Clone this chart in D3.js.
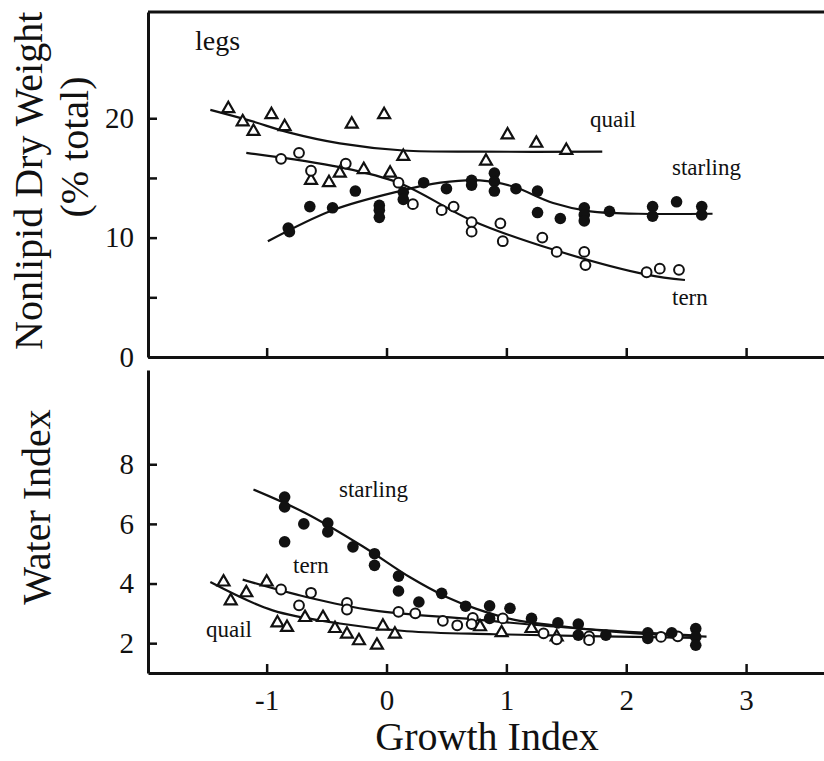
<!DOCTYPE html>
<html>
<head>
<meta charset="utf-8">
<script src="https://cdn.jsdelivr.net/npm/d3@7"></script>
<style>
  body { margin: 0; background: #fff; }
  svg { display: block; }
  text { font-family: "Liberation Serif", "DejaVu Serif", serif; fill: #111; }
</style>
</head>
<body>
<svg id="chart" width="824" height="761"></svg>
<script>
// ---- data (growth index, value) ----
// top panel: nonlipid dry weight of legs (% total)
var quailLegs = [[-1.32,20.8],[-1.2,19.7],[-1.11,18.9],[-0.96,20.3],[-0.85,19.3],[-0.29,19.5],
  [-0.02,20.3],[0.14,16.8],[-0.63,14.8],[-0.48,14.6],[-0.39,15.4],[-0.19,15.7],[0.03,15.4],
  [0.83,16.4],[1.01,18.6],[1.25,17.9],[1.5,17.3]];
var ternLegs = [[-0.88,16.6],[-0.73,17.1],[-0.63,15.6],[-0.34,16.2],[0.1,14.6],[0.22,12.8],
  [0.46,12.3],[0.56,12.6],[0.71,11.3],[0.71,10.5],[0.95,11.2],[0.97,9.7],[1.3,10.0],
  [1.42,8.8],[1.65,8.8],[1.66,7.7],[2.17,7.1],[2.28,7.4],[2.44,7.3]];
var starlingLegs = [[-0.82,10.8],[-0.81,10.5],[-0.64,12.6],[-0.45,12.5],[-0.26,13.9],[-0.06,12.7],
  [-0.06,12.3],[-0.06,11.7],[0.14,13.8],[0.14,13.2],[0.31,14.6],[0.5,14.1],[0.71,14.8],
  [0.71,14.4],[0.9,15.4],[0.9,14.7],[0.9,13.9],[1.08,14.1],[1.26,13.9],[1.26,12.1],
  [1.45,11.6],[1.65,12.5],[1.65,11.9],[1.65,11.4],[1.86,12.2],[2.22,12.6],[2.22,11.8],
  [2.42,13.0],[2.63,12.6],[2.63,11.9]];
var quailLegsFit = [[-1.47,20.7],[-1.14,19.8],[-0.81,18.8],[-0.39,17.9],[0.14,17.3],[0.78,17.2],[1.8,17.2]];
var ternLegsFit = [[-1.17,17.1],[-0.39,15.9],[0.1,14.6],[0.72,11.4],[1.39,9.0],[2.17,6.9],[2.49,6.45]];
var starlingLegsFit = [[-0.99,9.7],[-0.45,12.3],[0.11,13.9],[0.45,14.6],[0.78,14.8],[1.05,14.3],
  [1.39,12.9],[1.7,12.2],[2.1,12.0],[2.72,12.0]];

// bottom panel: water index
var starlingWater = [[-0.85,6.9],[-0.85,6.57],[-0.85,5.4],[-0.69,6.0],[-0.49,6.03],[-0.49,5.73],
  [-0.28,5.23],[-0.1,5.0],[-0.1,4.61],[0.1,4.25],[0.1,3.75],[0.27,3.38],[0.46,3.67],[0.66,3.24],
  [0.86,3.25],[0.86,2.83],[1.03,3.17],[1.21,2.83],[1.43,2.68],[1.6,2.64],[1.6,2.27],[1.83,2.27],
  [2.18,2.35],[2.18,2.16],[2.38,2.35],[2.58,2.49],[2.58,2.21],[2.58,1.93]];
var ternWater = [[-0.88,3.8],[-0.63,3.69],[-0.73,3.27],[-0.33,3.35],[-0.33,3.13],[0.1,3.05],
  [0.24,3.0],[0.47,2.75],[0.59,2.6],[0.72,2.85],[0.71,2.64],[0.97,2.83],[1.31,2.33],[1.42,2.13],
  [1.69,2.23],[1.69,2.1],[2.29,2.21],[2.43,2.23]];
var quailWater = [[-1.36,4.05],[-1.3,3.42],[-1.17,3.69],[-1.0,4.05],[-0.91,2.68],[-0.83,2.53],
  [-0.68,2.86],[-0.53,2.86],[-0.43,2.49],[-0.33,2.3],[-0.23,2.08],[-0.08,1.93],[-0.03,2.57],
  [0.07,2.3],[0.78,2.55],[0.96,2.35],[1.21,2.49],[1.42,2.21]];
var starlingWaterFit = [[-1.11,7.15],[-0.67,6.35],[-0.2,5.25],[0.2,4.2],[0.5,3.55],[0.75,3.15],
  [1.05,2.8],[1.5,2.55],[2.0,2.35],[2.67,2.22]];
var ternWaterFit = [[-1.2,4.13],[-0.67,3.55],[-0.11,3.1],[0.72,2.8],[1.61,2.49],[2.6,2.25]];
var quailWaterFit = [[-1.47,4.05],[-0.95,3.1],[-0.39,2.66],[0.17,2.4],[0.9,2.3],[2.6,2.18]];

var xTicks = [-1, 0, 1, 2, 3];
var topTicks = [0, 5, 10, 15, 20];
var topLabels = [0, 10, 20];
var bottomTicks = [2, 4, 6, 8];

// ---- layout ----
var svg = d3.select("#chart");
var x = d3.scaleLinear().domain([-1.99, 3.65]).range([148, 824]);
var yTop = d3.scaleLinear().domain([0, 28.9]).range([357, 12]);
var yBot = d3.scaleLinear().domain([1, 11.16]).range([673, 370]);

function drawAxes(y, ticks, labels, showX) {
  var left = svg.append("g")
    .attr("transform", "translate(" + x.range()[0] + ",0)")
    .call(d3.axisLeft(y).tickValues(ticks).tickSize(-9).tickSizeOuter(0).tickPadding(14)
      .tickFormat(function (d) { return labels.indexOf(d) >= 0 ? d : ""; }));
  var bottom = svg.append("g")
    .attr("transform", "translate(0," + y.range()[0] + ")")
    .call(d3.axisBottom(x).tickValues(xTicks).tickSize(-9).tickSizeOuter(0).tickPadding(16)
      .tickFormat(function (d) { return showX ? d : ""; }));
  [left, bottom].forEach(function (g) {
    g.select(".domain").attr("stroke", "#111").attr("stroke-width", 3);
    g.selectAll(".tick line").attr("stroke", "#111").attr("stroke-width", 2.5);
    g.selectAll(".tick text").style("font-size", "29px")
      .style("font-family", "Liberation Serif").attr("fill", "#111");
  });
}

drawAxes(yTop, topTicks, topLabels, false);
drawAxes(yBot, bottomTicks, bottomTicks, true);

// top frame line of upper panel
svg.append("line")
  .attr("x1", x.range()[0]).attr("x2", x.range()[1])
  .attr("y1", yTop.range()[1]).attr("y2", yTop.range()[1])
  .attr("stroke", "#111").attr("stroke-width", 3);

function drawFit(data, y) {
  var line = d3.line()
    .x(function (d) { return x(d[0]); })
    .y(function (d) { return y(d[1]); })
    .curve(d3.curveCatmullRom.alpha(0.5));
  svg.append("path").datum(data).attr("d", line)
    .attr("fill", "none").attr("stroke", "#111").attr("stroke-width", 2.2);
}

function drawPoints(data, y, kind) {
  var g = svg.append("g");
  if (kind === "triangle") {
    g.selectAll("path").data(data).enter().append("path")
      .attr("d", d3.symbol(d3.symbolTriangle).size(62))
      .attr("transform", function (d) { return "translate(" + x(d[0]) + "," + y(d[1]) + ")"; })
      .attr("fill", "#fff").attr("stroke", "#111").attr("stroke-width", 2.2);
  } else {
    g.selectAll("circle").data(data).enter().append("circle")
      .attr("cx", function (d) { return x(d[0]); })
      .attr("cy", function (d) { return y(d[1]); })
      .attr("r", kind === "filled" ? 5.8 : 4.9)
      .attr("fill", kind === "filled" ? "#111" : "#fff")
      .attr("stroke", "#111").attr("stroke-width", kind === "filled" ? 0 : 2);
  }
}

// top panel
drawFit(quailLegsFit, yTop);
drawFit(ternLegsFit, yTop);
drawFit(starlingLegsFit, yTop);
drawPoints(quailLegs, yTop, "triangle");
drawPoints(ternLegs, yTop, "open");
drawPoints(starlingLegs, yTop, "filled");

// bottom panel
drawFit(starlingWaterFit, yBot);
drawFit(ternWaterFit, yBot);
drawFit(quailWaterFit, yBot);
drawPoints(quailWater, yBot, "triangle");
drawPoints(ternWater, yBot, "open");
drawPoints(starlingWater, yBot, "filled");

// labels
function label(txt, px, py, size) {
  svg.append("text").attr("x", px).attr("y", py).style("font-size", size + "px").text(txt);
}
label("legs", 195, 50, 28);
label("quail", 590, 127, 23);
label("starling", 672, 175, 23);
label("tern", 672, 305, 23);
label("starling", 339, 497, 23);
label("tern", 293, 573, 23);
label("quail", 206, 637, 23);

svg.append("text")
  .attr("transform", "translate(42,350) rotate(-90)")
  .style("font-size", "40px").text("Nonlipid Dry Weight");
svg.append("text")
  .attr("transform", "translate(88,147) rotate(-90)")
  .attr("text-anchor", "middle")
  .style("font-size", "40px").text("(% total)");
svg.append("text")
  .attr("transform", "translate(50,507) rotate(-90)")
  .attr("text-anchor", "middle")
  .style("font-size", "40px").text("Water Index");
svg.append("text")
  .attr("x", 487).attr("y", 750)
  .attr("text-anchor", "middle")
  .style("font-size", "40px").text("Growth Index");
</script>
</body>
</html>
